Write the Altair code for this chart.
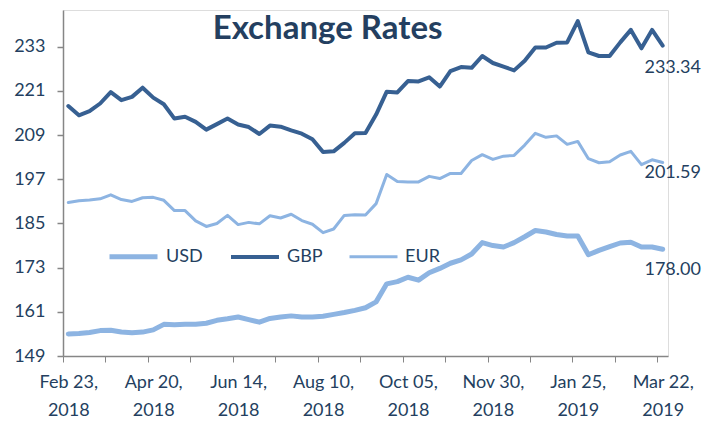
import altair as alt
import pandas as pd

series_names = ["USD", "GBP", "EUR"]
series_colors = ["#8DB4E2", "#376092", "#8DB4E2"]
series_widths = [5.0, 3.0, 1.3]

usd = [155.0, 155.1, 155.4, 155.9, 156.0, 155.5, 155.3, 155.5, 156.1, 157.6,
       157.5, 157.6, 157.6, 157.9, 158.7, 159.1, 159.6, 158.9, 158.2, 159.2,
       159.6, 159.9, 159.6, 159.6, 159.8, 160.3, 160.8, 161.4, 162.1, 163.7,
       168.6, 169.2, 170.4, 169.6, 171.6, 172.8, 174.2, 175.1, 176.7, 179.8,
       179.0, 178.6, 179.8, 181.4, 183.1, 182.7, 182.0, 181.6, 181.6, 176.5,
       177.7, 178.7, 179.7, 179.9, 178.6, 178.6, 178.00]

gbp = [216.9, 214.4, 215.5, 217.6, 220.7, 218.5, 219.4, 221.9, 219.2, 217.4,
       213.5, 214.0, 212.6, 210.5, 212.0, 213.5, 211.9, 211.2, 209.3, 211.6,
       211.3, 210.3, 209.4, 207.9, 204.4, 204.6, 206.9, 209.5, 209.6, 214.6,
       220.8, 220.6, 223.7, 223.6, 224.7, 222.2, 226.4, 227.5, 227.3, 230.5,
       228.6, 227.6, 226.6, 229.2, 232.8, 232.8, 234.1, 234.2, 240.0, 231.5,
       230.5, 230.5, 234.2, 237.6, 232.6, 237.6, 233.34]

eur = [190.7, 191.2, 191.4, 191.7, 192.8, 191.5, 191.0, 192.0, 192.1, 191.3,
       188.5, 188.5, 185.7, 184.2, 185.0, 187.2, 184.7, 185.3, 184.9, 187.1,
       186.5, 187.5, 185.8, 184.8, 182.5, 183.5, 187.2, 187.4, 187.3, 190.4,
       198.3, 196.4, 196.3, 196.3, 197.8, 197.2, 198.6, 198.6, 202.1, 203.7,
       202.4, 203.3, 203.5, 206.3, 209.5, 208.4, 208.8, 206.5, 207.3, 202.6,
       201.5, 201.8, 203.6, 204.6, 201.0, 202.3, 201.59]

tick_label_index = [0, 8, 16, 24, 32, 40, 48, 56]
tick_label_line1 = ["Feb 23,", "Apr 20,", "Jun 14,", "Aug 10,", "Oct 05,", "Nov 30,", "Jan 25,", "Mar 22,"]
tick_label_line2 = ["2018", "2018", "2018", "2018", "2018", "2018", "2019", "2019"]

y_ticks = [149, 161, 173, 185, 197, 209, 221, 233]

n = len(usd)
assert len(gbp) == n and len(eur) == n

rows = []
for s, vals in zip(series_names, [usd, gbp, eur]):
    for i, v in enumerate(vals):
        rows.append({"i": i, "series": s, "value": v})
df = pd.DataFrame(rows)

last = pd.DataFrame({"i": [n - 1] * 3, "series": series_names,
                     "value": [usd[-1], gbp[-1], eur[-1]]})

TEXT = "#243F60"
GRAY = "#868686"
FONT = "Lato"

# x label expression: ticks sit between categories, labels shifted half a band
expr = ""
for k, a, b in zip(tick_label_index, tick_label_line1, tick_label_line2):
    expr += f"datum.value == {k - 0.5} ? ['{a}', '{b}'] : "
expr += "''"

band_px = 605 / n

x_enc = alt.X("i:Q",
              scale=alt.Scale(domain=[-0.5, n - 0.5], nice=False, zero=False),
              axis=alt.Axis(values=[k - 0.5 for k in range(n)], labelExpr=expr,
                            labelOffset=band_px / 2, labelOverlap=False, labelFlush=False,
                            labelBound=False, grid=False, title=None,
                            domainColor=GRAY, domainWidth=1.5, tickColor=GRAY,
                            tickWidth=1, tickSize=6, labelFont=FONT, labelFontSize=18,
                            labelColor=TEXT, labelPadding=11, labelLineHeight=28,
                            labelBaseline="top"))
y_enc = alt.Y("value:Q",
              scale=alt.Scale(domain=[149, 243], nice=False, zero=False),
              axis=alt.Axis(values=y_ticks, grid=False, title=None,
                            domainColor=GRAY, domainWidth=1.5, tickColor=GRAY,
                            tickWidth=1.5, tickSize=6, labelFont=FONT, labelFontSize=18,
                            labelColor=TEXT, labelPadding=12))

legend = alt.Legend(orient="none", legendX=44, legendY=220, direction="horizontal",
                    title=None, symbolType="stroke", symbolSize=2304,
                    labelFont=FONT, labelFontSize=18, labelColor=TEXT,
                    columnPadding=20, labelOffset=6, symbolStrokeWidth=3)

lines = alt.Chart(df).mark_line(strokeJoin="round", strokeCap="round").encode(
    x=x_enc,
    y=y_enc,
    color=alt.Color("series:N", sort=series_names,
                    scale=alt.Scale(domain=series_names, range=series_colors), legend=legend),
    strokeWidth=alt.StrokeWidth("series:N", sort=series_names,
                                scale=alt.Scale(domain=series_names, range=series_widths),
                                legend=legend),
    detail="series:N",
)

label_dy = {"GBP": 22, "EUR": 11, "USD": 21}
text_layers = []
for s in series_names:
    text_layers.append(
        alt.Chart(last).transform_filter(alt.datum.series == s).mark_text(
            font=FONT, fontSize=18, color=TEXT, align="center", dx=10, dy=label_dy[s]
        ).encode(x="i:Q", y="value:Q", text=alt.Text("value:Q", format=".2f"))
    )

chart = alt.layer(lines, *text_layers).properties(
    width=605, height=346,
    autosize="none",
    padding={"left": 63, "top": 10, "right": 37, "bottom": 70},
    title=alt.TitleParams("Exchange Rates", font=FONT, fontSize=33, fontWeight="bold",
                          color=TEXT, anchor="start", dx=199, dy=62, offset=0,
                          baseline="alphabetic"),
).configure_view(stroke=None).configure(background="white")

chart.save("out.html", embed_options={"renderer": "svg", "actions": False})
